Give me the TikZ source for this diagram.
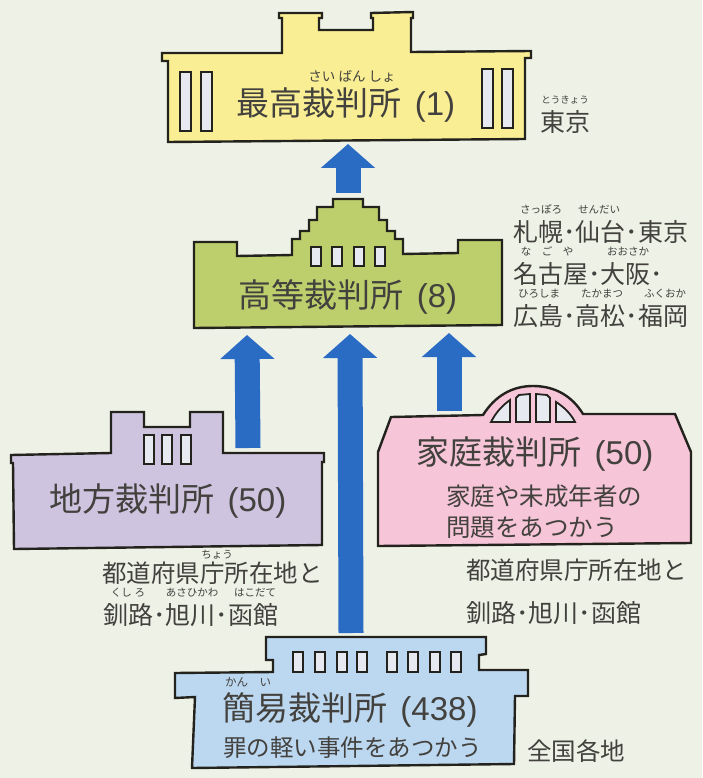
\documentclass[tikz,border=0pt]{standalone}
\usepackage{fontspec}
\setmainfont{Noto Sans CJK JP}
\newfontfamily\numfont{Liberation Sans}
\usetikzlibrary{arrows.meta,positioning}

\definecolor{paper}{HTML}{EDF1E6}
\definecolor{ink}{HTML}{42413D}
\definecolor{outline}{HTML}{23221D}
\definecolor{glass}{HTML}{E6E9F0}
\definecolor{saiFill}{HTML}{F9EE94}
\definecolor{kouFill}{HTML}{BDCF6C}
\definecolor{chiFill}{HTML}{CFC4E0}
\definecolor{katFill}{HTML}{F6C5D8}
\definecolor{kanFill}{HTML}{BCD7F0}
\definecolor{arrowBlue}{HTML}{2A6BC4}

\newcommand{\courtcount}[1]{\hspace{13pt}{\numfont (#1)}}

\tikzset{
  court/.style={draw=outline,line width=2.4pt,line join=miter},
  window/.style={draw=outline,line width=1.8pt,fill=glass},
  title/.style={inner sep=0pt,text=ink,text height=29pt,text depth=4pt,font=\fontsize{33}{33}\selectfont},
  caption/.style={inner sep=0pt,anchor=west,text=ink,text height=22pt,text depth=3pt,font=\fontsize{25}{25}\selectfont},
  sub/.style={inner sep=0pt,anchor=west,text=ink,text height=21pt,text depth=3pt,font=\fontsize{24.5}{24.5}\selectfont},
  furi/.style={inner sep=0pt,text=ink,text height=9pt,text depth=1.5pt,font=\fontsize{10.5}{10.5}\selectfont},
  bigfuri/.style={furi,font=\fontsize{13.5}{13.5}\selectfont},
  uparrow/.style={color=arrowBlue,line width=25pt,-{Triangle[length=24pt,width=53pt]}}
}

\begin{document}
\begin{tikzpicture}[x=1pt,y=-1pt]

    \fill[paper] (0,0) rectangle (702,778);
    \useasboundingbox (0,0) rectangle (702,778);

    \coordinate (saiIn) at (348,144);
    \coordinate (kouOut) at (348,193);
    \coordinate (kouInA) at (247,335);
    \coordinate (kouInB) at (350,334);
    \coordinate (kouInC) at (449,333);
    \coordinate (chiOut) at (248,448);
    \coordinate (katOut) at (449,411);
    \coordinate (kanOut) at (351,633);

    \path[uparrow] (kouOut) edge (saiIn)
                   (chiOut) edge (kouInA)
                   (kanOut) edge (kouInB)
                   (katOut) edge (kouInC);

    \draw[court,fill=saiFill] (168,142) -- (168,61) -- (162,61) -- (162,53) -- (282,53) -- (282,18) -- (279,18)
        -- (279,13) -- (322,13) -- (322,18) -- (319,18) -- (319,30) -- (373,30) -- (373,18) -- (371,18)
        -- (371,13) -- (413,12) -- (413,18) -- (411,18) -- (411,52) -- (531,51) -- (531,58) -- (525,58)
        -- (525,139) -- cycle;
    \foreach \wx in {180,201} \draw[window] (\wx,72) rectangle ++(11,59);
    \foreach \wx in {482,502} \draw[window] (\wx,69) rectangle ++(11,59);

    \draw[court,fill=kouFill] (194,328) -- (194,242) -- (237,242) -- (237,256) -- (292,255) -- (292,239)
        -- (300,239) -- (300,231) -- (309,231) -- (309,220) -- (317,220) -- (317,207) -- (333,207)
        -- (333,199) -- (363,199) -- (363,207) -- (379,207) -- (379,220) -- (387,220) -- (387,231)
        -- (395,231) -- (395,239) -- (403,239) -- (403,254) -- (458,253) -- (458,240) -- (502,240)
        -- (502,325) -- cycle;
    \foreach \wx in {311,332,354,375} \draw[window] (\wx,247) rectangle ++(10,19);

    \draw[court,fill=chiFill] (14,549) -- (13,463) -- (11,463) -- (11,455) -- (111,453) -- (111,412)
        -- (144,412) -- (144,427) -- (190,427) -- (190,412) -- (223,412) -- (223,453) -- (324,453)
        -- (324,462) -- (322,462) -- (322,545) -- cycle;
    \foreach \wx in {144,162,181} \draw[window] (\wx,435) rectangle ++(10,29);

    \draw[court,fill=katFill] (378,546) -- (378,452) -- (391,417) -- (483,415)
        .. controls (495,396) and (512,386) .. (533,386)
        .. controls (555,386) and (572,396) .. (583,414)
        -- (675,414) -- (691,452) -- (691,543) -- cycle;
    \draw[window] (491,422) .. controls (496,412) and (503,405) .. (510,400) -- (510,422) -- cycle;
    \draw[window] (516,422) -- (516,398) -- (519,395) -- (530,394) -- (530,422) -- cycle;
    \draw[window] (536,422) -- (536,394) -- (547,395) -- (550,398) -- (550,422) -- cycle;
    \draw[window] (556,402) .. controls (564,407) and (571,414) .. (575,422) -- (556,422) -- cycle;

    \draw[court,fill=kanFill] (192,768) -- (195,697) -- (175,698) -- (175,673) -- (273,672) -- (273,660)
        -- (266,660) -- (266,637) -- (486,637) -- (486,654) -- (479,655) -- (479,670) -- (528,670)
        -- (528,696) -- (515,696) -- (514,764) -- cycle;
    \foreach \wx in {293,315,337,357,387,408,430,451} \draw[window] (\wx,652) rectangle ++(10,20);

    \node[title] (sai) at (346,103) {最高裁判所\courtcount{1}};
    \node[bigfuri] (saiFuri) [above=3pt of sai,xshift=6pt] {さい ばん しょ};
    \node[caption] (tokyo) at (540,122) {東京};
    \node[furi,font=\fontsize{9.5}{9.5}\selectfont] (tokyoFuri) [above=4pt of tokyo] {とうきょう};

    \node[title] (kou) at (348,295) {高等裁判所\courtcount{8}};
    \node[caption] (kouA) at (513,232) {札幌･仙台･東京};
    \node[caption] (kouB) [below right=16.5pt and 0pt of kouA.south west] {名古屋･大阪･};
    \node[caption] (kouC) [below right=16.5pt and 0pt of kouB.south west] {広島･高松･福岡};
    \node[furi] (f1) [above=4pt of kouA.north west,xshift=28pt] {さっぽろ};
    \node[furi] (f2) [above=4pt of kouA.north west,xshift=86pt] {せんだい};
    \node[furi] (f3) [above=4pt of kouB.north west,xshift=34pt] {な　ご　や};
    \node[furi] (f4) [above=4pt of kouB.north west,xshift=115pt] {おおさか};
    \node[furi] (f5) [above=4pt of kouC.north west,xshift=26pt] {ひろしま};
    \node[furi] (f6) [above=4pt of kouC.north west,xshift=89pt] {たかまつ};
    \node[furi] (f7) [above=4pt of kouC.north west,xshift=152pt] {ふくおか};

    \node[title] (chi) at (168,499) {地方裁判所\courtcount{50}};
    \node[sub] (chiA) at (102,573) {都道府県庁所在地と};
    \node[caption] (chiB) [below right=17pt and 1pt of chiA.south west] {釧路･旭川･函館};
    \node[furi] (f8) [above=1pt of chiA.north west,xshift=115pt] {ちょう};
    \node[furi] (f9) [above=4pt of chiB.north west,xshift=25pt] {くし\hspace{3pt}ろ};
    \node[furi] (f10) [above=4pt of chiB.north west,xshift=89pt] {あさひかわ};
    \node[furi] (f11) [above=4pt of chiB.north west,xshift=152pt] {はこだて};

    \node[title] (kat) at (535,452) {家庭裁判所\courtcount{50}};
    \node[sub] (katA) at (446,496) {家庭や未成年者の};
    \node[sub] (katB) [below right=7pt and 0pt of katA.south west] {問題をあつかう};
    \node[sub] (katC) at (466,570) {都道府県庁所在地と};
    \node[caption] (katD) [below right=18pt and 0pt of katC.south west] {釧路･旭川･函館};

    \node[title] (kan) at (350,708) {簡易裁判所\courtcount{438}};
    \node[furi,font=\fontsize{11.5}{11.5}\selectfont] (kanFuri) [above=3pt of kan,xshift=-102pt] {かん　い};
    \node[sub,font=\fontsize{23.5}{23.5}\selectfont] (kanA) at (223,747) {罪の軽い事件をあつかう};
    \node[sub] (zenkoku) at (527,751) {全国各地};

\end{tikzpicture}
\end{document}
